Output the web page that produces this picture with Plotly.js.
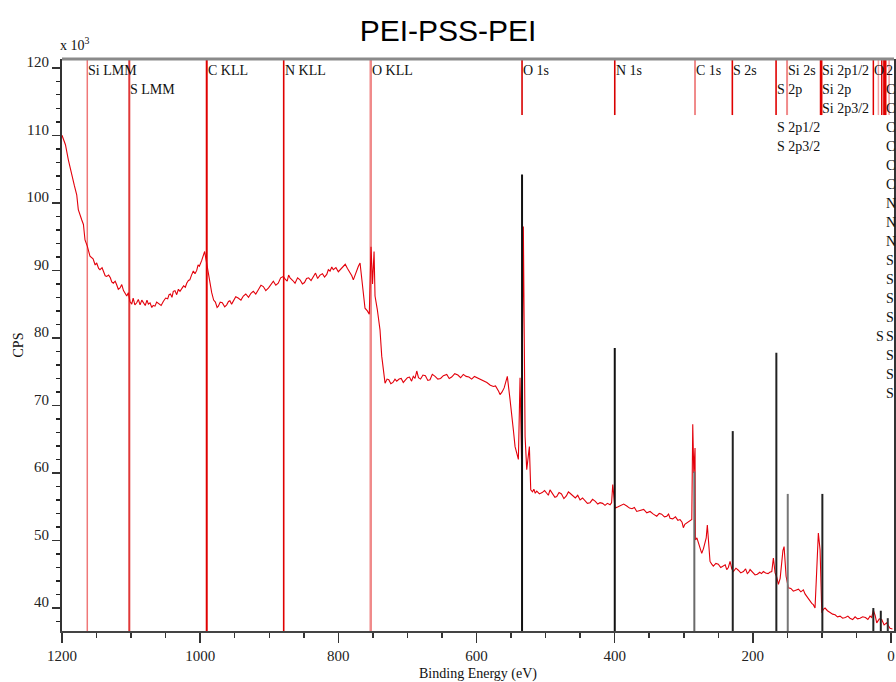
<!DOCTYPE html>
<html>
<head>
<meta charset="utf-8">
<script src="https://cdn.plot.ly/plotly-3.0.1.min.js"></script>
<style>html,body{margin:0;padding:0;background:#fff;}#chart{width:896px;height:682px;}</style>
</head>
<body>
<div id="chart"></div>
<script>
// ---- spectrum (binding energy in eV, counts in 10^3 CPS) ----
const bindingEnergy = [
  1200,1195,1190.9,1186,1182,1178.7,1176.4,1171.5,1169,1166.7,
  1163.4,1159.5,1155,1152,1149.8,1147,1145,1142,1140,1137.5,
  1135.3,1132.5,1130,1128,1125.7,1123,1121,1118.5,1116,1113.5,
  1111,1108.5,1106.3,1104,1101.6,1099,1097,1094.5,1091.9,1089.5,
  1087,1084.5,1082.3,1079.5,1077,1075,1072.6,1070,1068,1065.4,
  1063,1060,1056.5,1053.4,1050,1047,1045,1043,1040.8,1038.9,
  1036.5,1034,1031.5,1029.2,1026.5,1024,1021.5,1019.5,1017,1015,
  1012.5,1009.9,1007.5,1005,1003,1001.2,998,995.5,993.5,992,
  990,988.2,985.5,983.3,980.5,978,975.5,973.7,971,968,
  964.5,961.6,959,957,954.5,952,948.5,945,941,937.5,
  934,930,926.5,923.1,919.5,916,912,908.6,905,901,
  897.5,894.1,890.5,887,883.5,879.6,877,874,872,869.9,
  866,862.7,859,855.5,852,849,846,843,839.5,836.2,
  833,830,826.5,823,820,816.8,814.5,812,809.5,807.3,
  803.5,800,796.5,792.8,790,787,785,783.1,780.5,778.3,
  776,773.4,771,768.6,765,761.4,758,755.2,752.7,750.5,
  748.3,746.9,743.6,739.7,737.2,732.4,729.5,727,724,721,
  718,715.5,712,709,706,703,700,697,694,691.5,
  689,686.5,684,681,677.5,674,670.5,667.3,664,660,
  656,652,648,643.1,639.5,636,631.5,627,623,619.1,
  615,611,607,603,599,594.9,590,585,580,575.6,
  572.5,570,568,565.9,563,560,557.5,555.4,551.5,549,
  546.7,544.2,539.4,537,534.8,532.2,529.7,527.3,523.5,521.5,
  519,517,515,512.8,509,505,501.5,498.3,496,493.6,
  491,489,486.5,483.9,480.5,477,473.5,470,467,464.6,
  461,457,453.5,450.1,446.5,443,439.5,435.7,432,428,
  424.5,421.2,417.5,414,410.5,406.7,404.5,402.8,401,399.5,
  395,391,387,382.5,378.5,375,371.5,368.1,363,358,
  353.5,348.8,344,339.1,335.5,332,328,324.6,322,319.8,
  316,312,308.5,305.4,302.5,300.6,298.5,296,293.4,290.5,
  288.4,287,285.5,283.7,283.2,281,278.9,276.5,274,271.5,
  269.2,267.5,265.9,264,262,259.5,257.2,253.5,250,246.5,
  242.7,240,237.8,235.5,233,230.5,228.2,224.5,221,217.5,
  213.7,210.5,208,206,204,200.5,196.8,193.5,190,187.5,
  184.8,181.5,178,175.5,172.6,170.3,167.8,165.5,163,160.5,
  158.1,156.5,154.8,151.9,148.6,145,141.4,137.5,134,130.5,
  126.9,124.5,122,118.5,114.7,112.5,110,107.5,105.2,102.7,
  100.2,98,95.5,92,88.3,84.5,81,77.5,73.8,70,
  66,62.5,59.4,55.5,52,48.5,44.9,41,37,33.5,
  30.4,28,25.6,23,20.7,17,13.5,10,6.3,1.5,
  -2
];
const cpsThousands = [
  110.0,108.6,106.4,104.0,102.5,101.2,99.0,97.5,96.8,94.5,
  93.6,92.1,91.7,90.8,91.1,90.3,90.1,90.4,89.8,89.2,
  89.1,89.3,88.9,88.3,88.1,88.4,87.9,87.2,87.4,87.9,
  87.0,86.6,86.2,86.7,85.4,85.0,85.9,84.9,85.2,85.7,
  84.9,85.6,85.3,84.8,85.6,85.0,85.2,84.5,84.8,84.7,
  85.3,85.1,84.8,85.4,85.9,85.8,86.4,86.5,86.0,86.9,
  87.0,86.4,87.2,86.9,87.4,87.7,87.5,88.1,88.5,88.6,
  89.3,89.9,89.5,90.0,90.8,90.6,91.4,92.3,92.8,91.9,
  90.6,89.9,88.1,86.7,85.6,85.3,84.5,84.7,85.3,85.2,
  84.6,84.9,85.4,85.5,85.0,85.4,86.1,85.9,85.6,86.2,
  86.5,86.0,86.6,86.9,86.5,87.1,87.8,87.6,87.0,87.4,
  88.0,88.4,87.8,88.1,88.9,89.1,88.7,88.4,89.3,88.9,
  88.5,88.1,88.9,88.6,88.0,88.2,88.8,88.9,88.5,89.1,
  89.6,88.8,89.3,89.5,89.0,89.4,90.1,89.9,90.5,90.1,
  90.4,89.8,90.2,90.6,90.9,90.3,90.0,89.6,89.2,88.6,
  89.3,89.9,90.6,91.1,88.0,84.4,84.0,83.5,93.5,88.0,
  92.8,86.2,84.2,81.2,77.3,73.3,73.9,73.8,73.2,73.4,
  73.9,73.6,73.9,74.0,73.4,73.7,74.1,74.2,73.6,74.3,
  74.0,75.1,74.1,73.9,74.5,74.4,73.7,73.8,74.6,74.3,
  73.9,74.0,74.4,74.6,74.0,74.2,74.7,74.5,74.1,74.6,
  74.3,74.2,73.9,74.3,74.1,73.8,73.6,73.4,73.0,72.8,
  72.9,72.5,72.1,71.6,72.0,72.6,73.4,74.3,70.9,68.9,
  66.4,63.9,62.0,74.1,62.0,96.5,65.4,60.5,63.9,57.5,
  57.2,57.6,57.0,57.3,56.9,57.1,57.4,57.0,56.7,57.5,
  57.1,56.8,56.4,56.5,57.1,56.9,56.2,56.6,57.2,57.0,
  56.6,56.3,56.7,56.0,56.3,55.9,55.5,55.6,56.1,55.8,
  55.4,55.6,55.5,55.2,55.5,55.3,55.6,58.3,56.0,54.8,
  55.0,55.2,55.4,55.1,54.8,54.7,54.9,54.3,54.5,54.6,
  54.1,54.3,53.9,53.6,54.0,53.9,53.5,53.6,53.9,53.3,
  53.2,53.5,53.0,53.1,52.7,51.9,52.4,52.6,52.8,52.9,
  53.1,67.2,60.0,63.7,50.1,50.4,49.6,48.9,48.1,48.8,
  49.6,50.4,52.3,49.0,46.9,46.5,46.2,46.6,46.5,46.0,
  46.2,46.4,45.7,46.0,46.9,45.8,45.4,45.9,45.6,45.2,
  45.4,45.8,45.1,45.3,45.7,45.3,44.9,45.0,45.3,45.1,
  45.4,45.2,45.1,45.3,45.4,47.4,45.2,44.6,43.5,44.4,
  47.2,48.5,49.1,44.7,43.0,42.9,42.5,42.6,42.8,42.4,
  42.7,42.1,41.7,41.2,40.7,40.5,40.0,45.7,51.1,48.6,
  39.3,39.8,40.0,39.6,39.3,39.1,39.0,38.7,38.8,38.5,
  38.6,38.8,38.5,38.3,38.7,38.4,38.5,38.7,38.6,38.3,
  38.8,38.6,39.7,38.9,37.8,38.4,38.3,37.5,37.8,37.0,
  36.9
];

// ---- axis ranges ----
const xRange = [1200, -4.3];
const yRange = [36.6, 121.3];

// ---- Auger marker lines (full height) ----
const augerNames = ["Si LMM", "S LMM", "C KLL", "N KLL", "O KLL"];
const augerEV = [1163.4, 1102.6, 990.5, 879.1, 753.1];

// ---- core level marker lines (short, from top) ----
const coreEV = [534.1, 399.9, 283.7, 229.7, 166.4, 150.5, 101.7, 100.7, 25.6, 18.3, 13.4, 10.0, 8.0, 2.8];
const coreLineLow = 113.0;

// ---- reference peak sticks (black) ----
const stickEV = [534.1, 399.9, 284.7, 229.1, 166.0, 149.5, 99.4, 25.6, 14.8, 4.7];
const stickTop = [104.2, 78.5, 60.2, 66.2, 77.8, 56.9, 56.9, 40.0, 39.6, 38.5];

// ---- peak labels ----
const labelText = ["Si LMM","S LMM","C KLL","N KLL","O KLL","O 1s","N 1s","C 1s","S 2s","S 2p",
  "S 2p1/2","S 2p3/2","Si 2s","Si 2p1/2","Si 2p","Si 2p3/2","O","2",
  "C","C","C","C","C","C","N","N","N","S","S","S","S","S","S","S","S","S"];
const labelEV = [1163.4,1102.6,990.5,879.1,753.1,534.1,399.9,283.7,229.7,166.4,
  166.4,166.4,150.5,101.7,101.7,101.7,25.6,8.6,
  8.6,8.6,8.6,8.6,8.6,8.6,8.6,8.6,8.6,8.6,8.6,8.6,8.6,8.6,23.0,8.6,8.6,8.6];
const labelRow = [0,1,0,0,0,0,0,0,0,1,
  3,4,0,0,1,2,0,0,
  1,2,3,4,5,6,7,8,9,10,11,12,13,14,14,15,16,17];

// ---- styles (kept separate) ----
const augerColor = ["#f07878", "#e03838", "#e00000", "#e00000", "#f08a8a"];
const augerWidth = [1.5, 2, 2, 1.6, 2.5];
const coreColor = ["#d80000","#d80000","#f08a8a","#e00000","#e00000","#f08a8a","#e00000","#e00000",
  "#e00000","#f4a0a0","#e00000","#e00000","#e00000","#f4a0a0"];
const coreWidth = [1.6,1.6,2,1.6,1.6,2,2,2,1.5,1.5,1.5,2,2,1.5];
const stickColor = ["#111","#111","#6a6a6a","#222","#222","#777","#222","#222","#222","#333"];

const traces = [];
augerEV.forEach((e, i) => traces.push({
  type: "scatter", mode: "lines", x: [e, e], y: [yRange[0], yRange[1]],
  line: {color: augerColor[i], width: augerWidth[i]}, hoverinfo: "skip", name: augerNames[i]
}));
coreEV.forEach((e, i) => traces.push({
  type: "scatter", mode: "lines", x: [e, e], y: [coreLineLow, yRange[1]],
  line: {color: coreColor[i], width: coreWidth[i]}, hoverinfo: "skip"
}));
traces.push({
  type: "scatter", mode: "lines", x: bindingEnergy, y: cpsThousands,
  line: {color: "#e3000b", width: 1.1}, name: "PEI-PSS-PEI"
});
stickEV.forEach((e, i) => traces.push({
  type: "scatter", mode: "lines", x: [e, e], y: [yRange[0], stickTop[i]],
  line: {color: stickColor[i], width: 2}, hoverinfo: "skip"
}));

const serif = "Liberation Serif, Times New Roman, serif";
const annotations = labelText.map((t, i) => ({
  text: t, x: labelEV[i], xref: "x", xanchor: "left", xshift: -1,
  y: 1, yref: "paper", yanchor: "middle", yshift: -(11 + 19 * labelRow[i]),
  showarrow: false, font: {family: serif, size: 14, color: "#111"}
}));
annotations.push({
  text: "x 10<sup>3</sup>", x: 0, xref: "paper", xanchor: "left", xshift: -4,
  y: 1, yref: "paper", yanchor: "middle", yshift: 15,
  showarrow: false, font: {family: serif, size: 14, color: "#111"}
});

const layout = {
  width: 896, height: 682,
  margin: {l: 62, r: 2, t: 59, b: 51},
  paper_bgcolor: "#fff", plot_bgcolor: "#fff",
  showlegend: false, hovermode: false,
  title: {
    text: "PEI-PSS-PEI", xref: "container", x: 0.5, xanchor: "center",
    yref: "container", y: 0.956, yanchor: "middle",
    font: {family: "Liberation Sans, Arial, sans-serif", size: 30, color: "#000"}
  },
  xaxis: {
    range: xRange, showgrid: false, zeroline: false,
    showline: true, linecolor: "#444", linewidth: 2, mirror: false,
    tickmode: "linear", tick0: 0, dtick: 200,
    ticks: "outside", ticklen: 10, tickwidth: 1.5, tickcolor: "#333",
    minor: {dtick: 50, tick0: 0, ticks: "outside", ticklen: 5, tickwidth: 1.5, tickcolor: "#333"},
    tickfont: {family: serif, size: 15, color: "#222"},
    title: {text: "Binding Energy (eV)", standoff: 6, font: {family: serif, size: 14, color: "#111"}}
  },
  yaxis: {
    range: yRange, showgrid: false, zeroline: false,
    showline: true, linecolor: "#333", linewidth: 2, mirror: true,
    tickmode: "linear", tick0: 0, dtick: 10,
    ticks: "outside", ticklen: 8, tickwidth: 1.5, tickcolor: "#333",
    minor: {dtick: 2, tick0: 0, ticks: "outside", ticklen: 4, tickwidth: 1.4, tickcolor: "#222"},
    tickfont: {family: serif, size: 15, color: "#222"},
    ticklabelshift: -6,
    title: {text: "CPS", standoff: 0, font: {family: serif, size: 14, color: "#111"}}
  },
  shapes: [{
    type: "line", xref: "paper", yref: "paper", x0: 0, x1: 1, y0: 1, y1: 1,
    line: {color: "#8a8a8a", width: 3}
  }],
  annotations: annotations
};

Plotly.newPlot("chart", traces, layout, {staticPlot: true, displayModeBar: false});
</script>
</body>
</html>
